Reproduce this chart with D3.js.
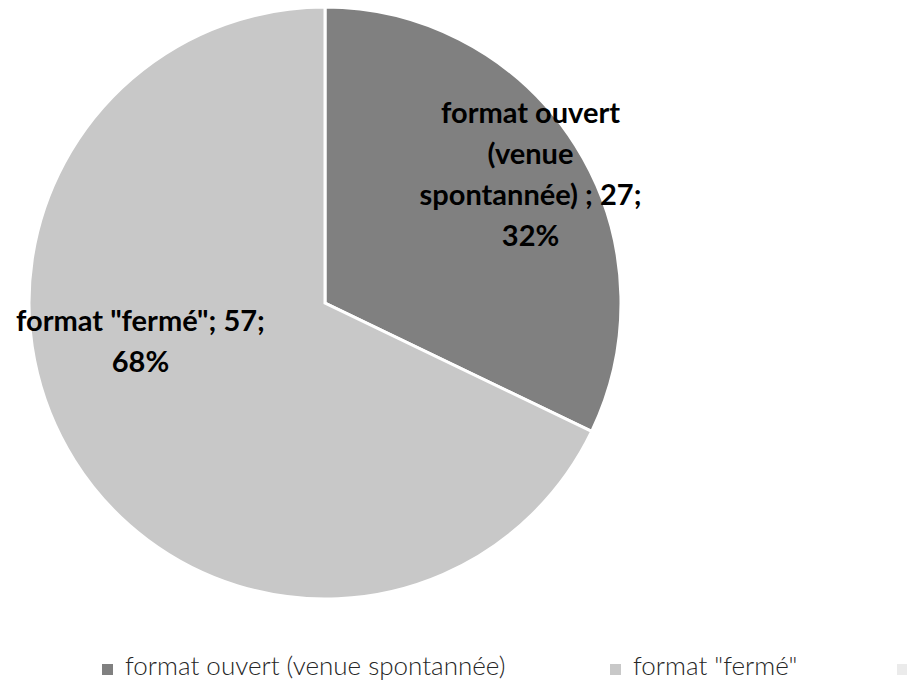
<!DOCTYPE html>
<html>
<head>
<meta charset="utf-8">
<script src="https://cdnjs.cloudflare.com/ajax/libs/d3/7.8.5/d3.min.js"></script>
<style>
  body { margin: 0; background: #fff; }
  svg { display: block; }
  .label { font-family: Lato, "Open Sans", sans-serif; font-weight: 700; font-size: 29px; fill: #000; }
  .legend text { font-family: Lato, "Open Sans", sans-serif; font-weight: 300; font-size: 26px; fill: #262626; }
</style>
</head>
<body>
<div id="chart"></div>
<script>
// data
var categories = ['format ouvert (venue spontannée)', 'format "fermé"'];
var values = [27, 57];
var percents = ['32%', '68%'];
// the data labels are wrapped like in the original
var labelLines = [
  ['format ouvert', '(venue', 'spontannée) ; 27;', '32%'],
  ['format "fermé"; 57;', '68%']
];
var legendNames = ['format ouvert (venue spontannée)', 'format "fermé"', ''];
var colors = ['#808080', '#c8c8c8', '#ebebeb'];

var width = 907, height = 688;
var cx = 325, cy = 303, radius = 296;

var svg = d3.select('#chart').append('svg')
  .attr('width', width)
  .attr('height', height);

var g = svg.append('g')
  .attr('transform', 'translate(' + cx + ',' + cy + ')');

var pie = d3.pie().sort(null).value(function(d) { return d; });
var arcs = pie(values);

var arc = d3.arc().innerRadius(0).outerRadius(radius);
var labelArc = d3.arc().innerRadius(radius * 0.82).outerRadius(radius * 0.82);

g.selectAll('path.slice')
  .data(arcs)
  .enter().append('path')
  .attr('class', 'slice')
  .attr('d', arc)
  .attr('fill', function(d, i) { return colors[i]; })
  .attr('stroke', '#fff')
  .style('stroke-width', '3px');

// small nudges, Excel moved the second label up
var labelShift = [[0, 2], [21, -90]];
var lineH = 41;

var labels = g.selectAll('text.label')
  .data(arcs)
  .enter().append('text')
  .attr('class', 'label')
  .attr('text-anchor', 'middle')
  .attr('transform', function(d, i) {
    var c = labelArc.centroid(d);
    return 'translate(' + (c[0] + labelShift[i][0]) + ',' + (c[1] + labelShift[i][1]) + ')';
  });

labels.each(function(d, i) {
  var lines = labelLines[i];
  var top = -(lines.length - 1) * lineH / 2 + 9;
  d3.select(this).selectAll('tspan')
    .data(lines)
    .enter().append('tspan')
    .attr('x', 0)
    .attr('y', function(t, j) { return top + j * lineH; })
    .text(function(t) { return t; });
});

// legend
var legendX = [102, 610, 897];
var legend = svg.append('g').attr('class', 'legend')
  .selectAll('g')
  .data(legendNames)
  .enter().append('g')
  .attr('transform', function(d, i) { return 'translate(' + legendX[i] + ',664)'; });

legend.append('rect')
  .attr('width', 11)
  .attr('height', 11)
  .attr('fill', function(d, i) { return colors[i]; });

legend.append('text')
  .attr('x', 23)
  .attr('y', 11)
  .text(function(d) { return d; });
</script>
</body>
</html>
